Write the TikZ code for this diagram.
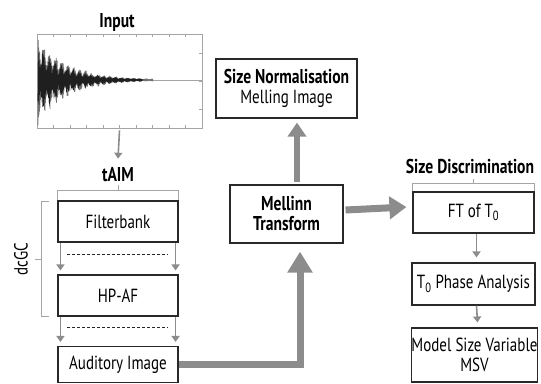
\documentclass[tikz,border=0pt]{standalone}
\usepackage{fontspec}
\setmainfont{PT Sans}[FakeStretch=0.79, BoldFeatures={FakeStretch=0.78}]
\usetikzlibrary{arrows.meta}
\definecolor{arrowgray}{RGB}{140,140,140}
\definecolor{boxline}{RGB}{40,40,40}
\definecolor{framegray}{RGB}{165,165,165}
\tikzset{
  blockbox/.style={draw=boxline, line width=1.1pt, fill=white, inner sep=0pt,
    align=center, font=\fontsize{19}{20}\selectfont},
  titletext/.style={inner sep=0pt, anchor=base, font=\fontsize{20}{20}\selectfont\bfseries},
  thinarrow/.style={draw=arrowgray, line width=1.6pt,
    -{Triangle[length=6pt,width=8pt]}},
  bigarrow/.style={draw=arrowgray, line width=7pt,
    -{Triangle[length=17pt,width=22pt]}},
  bracketline/.style={draw=framegray, line width=0.9pt},
  dashline/.style={draw=black!85, line width=0.7pt, dash pattern=on 3pt off 2pt},
}
\begin{document}
\begin{tikzpicture}[x=1pt,y=-1pt]
\useasboundingbox (0,0) rectangle (541,383);

% ---- input waveform panel ----
\node[titletext] (input) at (117,27) {Input};
\node[draw=framegray, line width=0.8pt, minimum width=165pt, minimum height=94pt,
      inner sep=0pt] (wave) at (119.5,81) {};
\foreach \i in {1,...,9} {
  \draw[framegray, line width=0.6pt] (37+16.5*\i,34) -- ++(0,3);
  \draw[framegray, line width=0.6pt] (37+16.5*\i,128) -- ++(0,-3);
}
\foreach \yy in {52.8,81,109.2} {
  \draw[framegray, line width=0.6pt] (37,\yy) -- ++(3,0);
  \draw[framegray, line width=0.6pt] (202,\yy) -- ++(-3,0);
}
\draw[framegray, line width=0.6pt] (37,80) -- (202,80);
\pgfmathsetseed{11}
% outer (lighter) excursions; consecutive samples alternate in sign
\draw[black!55, line width=0.7pt, line join=round] plot[domain=0:115, samples=461]
  ({38+\x}, {80 + 46*exp(-\x/30)*(0.35+0.65*abs(cos(\x*30)))*(1-2*mod(round(\x*4),2))*(0.6+0.4*rnd)});
% dense dark core
\draw[black!88, line width=0.6pt, line join=round] plot[domain=0:105, samples=421]
  ({38+\x}, {80 + 36*exp(-\x/30)*(0.35+0.65*abs(cos(\x*30+20)))*(1-2*mod(round(\x*4),2))*(0.5+0.5*rnd)});

% ---- tAIM stage ----
\node[titletext] (taim) at (118,181) {tAIM};
\draw[thinarrow] ([yshift=-2pt]wave.south) -- ([yshift=8pt]taim.north);

\node[blockbox, minimum width=120pt, minimum height=41pt] (fb)  at (118,221.5) {Filterbank};
\node[blockbox, minimum width=120pt, minimum height=41pt] (hp)  at (118,295.5) {HP-AF};
\node[blockbox, minimum width=120pt, minimum height=36pt] (aud) at (118,364.5) {Auditory Image};

% bracket over the filterbank
\draw[bracketline] (fb.north west) -- ++(0,-10) -| (fb.north east);
\coordinate (taimtick) at ([yshift=10pt]fb.north);
\draw[bracketline] (taimtick) -- ++(0,-5);

% dcGC bracket
\coordinate (dctop) at (49,201.5);
\coordinate (dcbot) at (49,316);
\coordinate (dcmid) at (41,259);
\draw[bracketline] (dctop) -- (41,201.5) -- (41,316) -- (dcbot);
\draw[bracketline] (dcmid) -- ++(-6,0);
\node[rotate=90, inner sep=0pt, font=\fontsize{19}{20}\selectfont] (dcgc) at (21,259) {dcGC};

% channel arrows between stages
\draw[thinarrow] ([xshift=3pt]fb.south west) -- ([xshift=3pt,yshift=4pt]hp.north west);
\draw[thinarrow] ([xshift=-3pt]fb.south east) -- ([xshift=-3pt,yshift=4pt]hp.north east);
\draw[dashline] (67,254) -- (168,254);
\draw[thinarrow] ([xshift=3pt]hp.south west) -- ([xshift=3pt,yshift=4pt]aud.north west);
\draw[thinarrow] ([xshift=-3pt]hp.south east) -- ([xshift=-3pt,yshift=4pt]aud.north east);
\draw[dashline] (67,327) -- (168,327);

% ---- Mellin stage ----
\node[blockbox, minimum width=113pt, minimum height=58pt,
      font=\fontsize{20}{20}\selectfont\bfseries] (mel) at (286.5,214) {Mellinn\\Transform};
\node[blockbox, minimum width=141pt, minimum height=59pt] (sn) at (286.5,88.5)
  {{\fontsize{20}{20}\selectfont\bfseries Size Normalisation}\\Melling Image};

% ---- size discrimination stage ----
\node[titletext] (sd) at (470,173) {Size Discrimination};
\node[blockbox, minimum width=121pt, minimum height=41pt] (ft)    at (473.5,212.5) {FT of T\textsubscript{0}};
\node[blockbox, minimum width=123pt, minimum height=42pt] (phase) at (473.5,284) {T\textsubscript{0} Phase Analysis};
\node[blockbox, minimum width=125pt, minimum height=54pt] (msv)   at (474.5,355) {Model Size Variable\\MSV};

\draw[bigarrow, -{Triangle[length=21pt,width=24pt]}] (aud.east) -| ([xshift=13.5pt,yshift=-8pt]mel.south);
\draw[bigarrow, line width=6pt, -{Triangle[length=14pt,width=18pt]}]
  ([xshift=10.5pt,yshift=2pt]mel.north) -- ([xshift=10.5pt,yshift=-4pt]sn.south);
\draw[bigarrow] ([yshift=4pt,xshift=2pt]mel.east) -- ([yshift=5.5pt,xshift=-6pt]ft.west);

\draw[bracketline] (ft.north west) -- ++(0,-8) -| (ft.north east);
\coordinate (sdtick) at ([yshift=8pt]ft.north);
\draw[bracketline] (sdtick) -- ++(0,-4);

\draw[thinarrow] ([xshift=3pt]ft.south) -- ([xshift=3pt,yshift=5pt]phase.north);
\draw[thinarrow] ([xshift=3pt]phase.south) -- ([xshift=3pt,yshift=5pt]msv.north);
\end{tikzpicture}
\end{document}
